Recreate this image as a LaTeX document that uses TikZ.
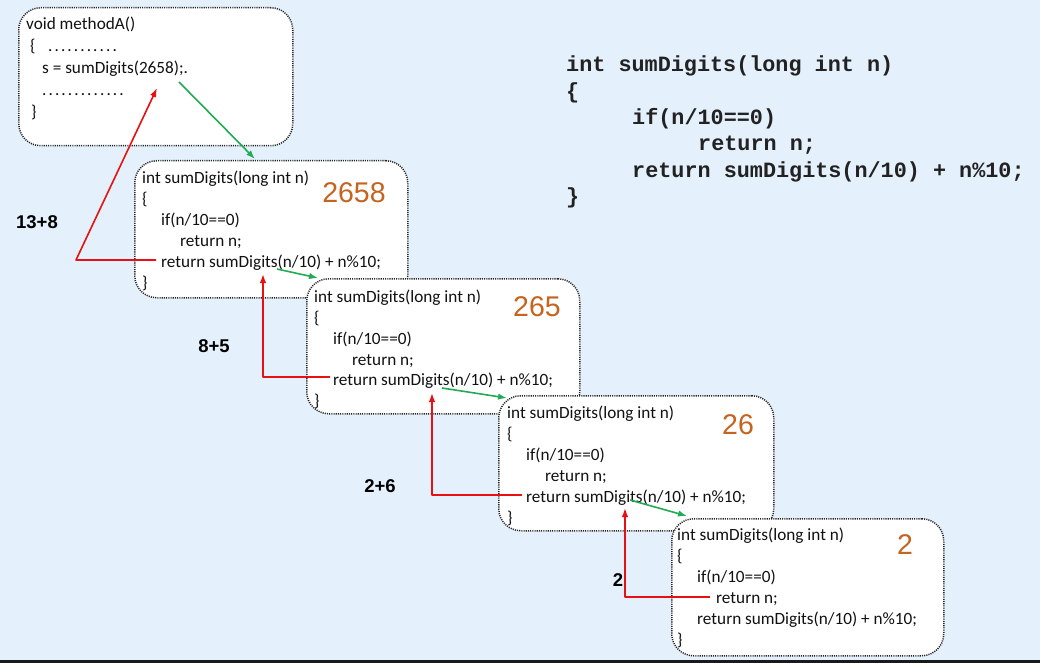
\documentclass[tikz,border=0pt]{standalone}
\usepackage{fontspec}
\setmainfont{Carlito}
\newfontfamily\numfont{Liberation Sans}
\newfontfamily\monofont{Liberation Mono}
\usetikzlibrary{arrows.meta}
\definecolor{bgblue}{HTML}{E4F0FB}
\definecolor{codeblack}{HTML}{111111}
\definecolor{monogray}{HTML}{222222}
\definecolor{numorange}{HTML}{C5631F}
\definecolor{arrowred}{HTML}{E81010}
\definecolor{arrowgreen}{HTML}{22AA55}
\newcommand\dd{.\kern2.1pt}
\begin{document}
\begin{tikzpicture}[x=1pt,y=-1pt,
  codebox/.style={draw=black!85, fill=white, rounded corners=22pt, line width=1.5pt,
    dash pattern=on 1.1pt off 1.1pt, anchor=north west, inner sep=0pt},
  code/.style={anchor=base west, inner sep=0pt, font=\fontsize{17.2}{21}\selectfont, text=codeblack},
  big/.style={anchor=center, inner sep=0pt, font=\numfont\fontsize{28.5}{30}\selectfont, text=numorange},
  sumlabel/.style={anchor=center, inner sep=0pt, font=\numfont\bfseries\fontsize{18.5}{20}\selectfont, text=black},
  mono/.style={anchor=base west, inner sep=0pt, font=\monofont\bfseries\fontsize{21.8}{26}\selectfont, text=monogray},
  redarr/.style={draw=arrowred, line width=1.6pt, line join=round, -{Latex[length=9pt,width=6.5pt]}},
  greenarr/.style={draw=arrowgreen, line width=1.6pt, -{Latex[length=9pt,width=6.5pt]}}
]
\useasboundingbox (0,0) rectangle (1040,663);
\fill[bgblue] (0,0) rectangle (1040,663);
\fill[black!90] (0,660) rectangle (1040,663);

% caller box
\node[codebox, minimum width=274pt, minimum height=138pt] (A) at (18,7) {};
\node[code] (Al1) at (26,30) {void methodA()};
\node[code] (Al2) at (30,52) {\{};
\node[code] (Al2d) at (48,52) {\dd\dd\dd\dd\dd\dd\dd\dd\dd\dd.};
\node[code] (Al3) at (42,74) {s = sumDigits(2658);.};
\node[code] (Al4) at (42,96) {\dd\dd\dd\dd\dd\dd\dd\dd\dd\dd\dd\dd.};
\node[code] (Al5) at (31,118) {\}};

% box 1
\node[codebox, minimum width=273pt, minimum height=137pt] (B1) at (134,160) {};
\node[code] (B1l1) at (142,183) {int sumDigits(long int n)};
\node[code] (B1l2) at (142,204) {\{};
\node[code] (B1l3) at (161,225) {if(n/10==0)};
\node[code] (B1l4) at (180,246) {return n;};
\node[code] (B1l5) at (161,267) {return sumDigits(n/10) + n\%10;};
\node[code] (B1l6) at (142,288) {\}};
\node[big] (N1) at (354,193) {2658};

% box 2
\node[codebox, minimum width=273pt, minimum height=135pt] (B2) at (306,278) {};
\node[code] (B2l1) at (314,302) {int sumDigits(long int n)};
\node[code] (B2l2) at (314,323) {\{};
\node[code] (B2l3) at (333,344) {if(n/10==0)};
\node[code] (B2l4) at (352,365) {return n;};
\node[code] (B2l5) at (333,385) {return sumDigits(n/10) + n\%10;};
\node[code] (B2l6) at (314,406) {\}};
\node[big] (N2) at (537,307) {265};

% box 3
\node[codebox, minimum width=275pt, minimum height=135pt] (B3) at (498,395) {};
\node[code] (B3l1) at (507,418) {int sumDigits(long int n)};
\node[code] (B3l2) at (507,439) {\{};
\node[code] (B3l3) at (526,460) {if(n/10==0)};
\node[code] (B3l4) at (545,481) {return n;};
\node[code] (B3l5) at (526,502) {return sumDigits(n/10) + n\%10;};
\node[code] (B3l6) at (507,523) {\}};
\node[big] (N3) at (738,425) {26};

% box 4
\node[codebox, minimum width=272pt, minimum height=137pt] (B4) at (671,518) {};
\node[code] (B4l1) at (677,540) {int sumDigits(long int n)};
\node[code] (B4l2) at (677,561) {\{};
\node[code] (B4l3) at (697,582) {if(n/10==0)};
\node[code] (B4l4) at (716,603) {return n;};
\node[code] (B4l5) at (697,624) {return sumDigits(n/10) + n\%10;};
\node[code] (B4l6) at (677,645) {\}};
\node[big] (N4) at (905,545) {2};

% right-hand code
\node[mono] (M1) at (566,72) {int sumDigits(long int n)};
\node[mono] (M2) at (566,98.3) {\{};
\node[mono] (M3) at (632,124.6) {if(n/10==0)};
\node[mono] (M4) at (698,150.9) {return n;};
\node[mono] (M5) at (632,177.2) {return sumDigits(n/10) + n\%10;};
\node[mono] (M6) at (566,203.5) {\}};

% partial sums
\node[sumlabel] (S1) at (37,222.5) {13+8};
\node[sumlabel] (S2) at (214,346.5) {8+5};
\node[sumlabel] (S3) at (380,486) {2+6};
\node[sumlabel] (S4) at (618,580.5) {2};

% arrow coordinates
\coordinate (G1s) at (179,82);  \coordinate (G1t) at (255,159);
\coordinate (G2s) at (277,269); \coordinate (G2t) at (318,278);
\coordinate (G3s) at (442,388); \coordinate (G3t) at (507,398);
\coordinate (G4s) at (630,500); \coordinate (G4t) at (687,516);
\coordinate (R1c) at (81,0);    \coordinate (R1t) at (157,88);
\coordinate (R2t) at (263,274);
\coordinate (R3t) at (432,393);
\coordinate (R4t) at (625,508);

% calls (green)
\draw[greenarr] (G1s) -- (G1t);
\draw[greenarr] (G2s) -- (G2t);
\draw[greenarr] (G3s) -- (G3t);
\draw[greenarr] (G4s) -- (G4t);

% returns (red)
\draw[redarr] ([shift={(-5,-7)}]B1l5.base west) -- ([shift={(-5,-7)}]B1l5.base west -| R1c) -- (R1t);
\draw[redarr] ([shift={(-3,-8)}]B2l5.base west) -| (R2t);
\draw[redarr] ([shift={(-4,-7)}]B3l5.base west) -| (R3t);
\draw[redarr] ([shift={(-6,-6)}]B4l4.base west) -| (R4t);
\end{tikzpicture}
\end{document}
